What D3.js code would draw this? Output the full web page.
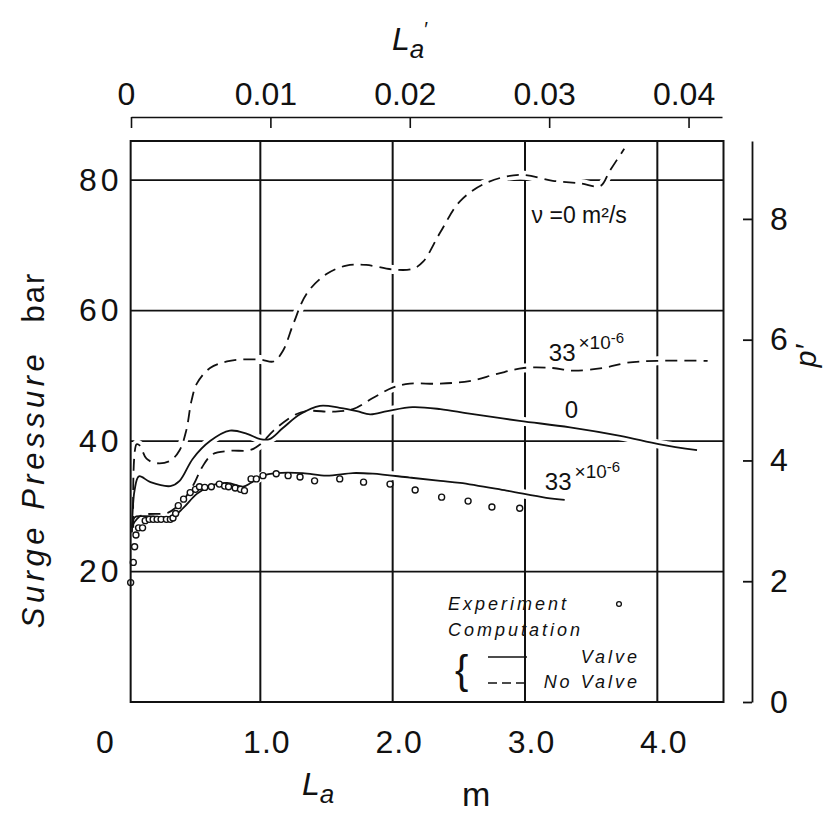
<!DOCTYPE html>
<html>
<head>
<meta charset="utf-8">
<style>
  body { margin: 0; background: #fff; }
  svg { display: block; }
  text { font-family: 'Liberation Sans', Arial, sans-serif; fill: #111; }
  .tick line, .domain { stroke: #111; }
</style>
</head>
<body>
<svg width="824" height="818"></svg>

<script src="https://d3js.org/d3.v7.min.js"></script>
<script>
// ---- data (La in m, pressure in bar) ----
let noValveZero = [[0.04,26.7],[0.065,39.5],[0.09,39.3],[0.14,37.3],[0.22,36.6],[0.32,37.0],[0.39,38.6],
  [0.44,41.6],[0.48,46.2],[0.52,48.8],[0.62,51.2],[0.77,52.3],[1.0,52.5],[1.1,52.2],[1.17,53.8],[1.25,58],
  [1.35,62.6],[1.5,65.6],[1.65,66.9],[1.8,67],[2.0,66.3],[2.15,66.4],[2.23,67.5],[2.36,72],[2.51,76.8],
  [2.71,79.6],[2.96,80.8],[3.21,79.9],[3.42,79.5],[3.57,79.1],[3.64,81.4],[3.75,84.8]]

let noValve33 = [[0.04,27.3],[0.1,28.6],[0.3,29.0],[0.36,29.8],[0.42,31],[0.5,33.5],[0.56,36],[0.64,38],
  [0.77,38.5],[0.92,38.6],[1.0,39.5],[1.1,41.6],[1.25,43.9],[1.35,44.6],[1.55,44.5],[1.7,44.9],[1.85,46.6],
  [2.0,48.2],[2.13,48.8],[2.35,48.8],[2.58,49.2],[2.79,50.3],[2.99,51.2],[3.21,51.2],[3.36,50.8],[3.59,51.2],
  [3.77,52],[4.0,52.3],[4.38,52.3]]

let valveZero = [[0.03,26.7],[0.05,32.5],[0.083,34.6],[0.17,33.7],[0.32,33.1],[0.39,33.9],[0.49,37.3],[0.62,40],
  [0.77,41.6],[0.9,41.1],[1.0,40.3],[1.07,40.3],[1.17,42],[1.3,44.1],[1.45,45.4],[1.6,45.1],[1.73,44.6],
  [1.83,44.1],[1.96,44.6],[2.15,45.2],[2.36,44.9],[2.58,44.2],[2.96,43.1],[3.34,42.1],[3.72,40.8],[4.02,39.5],[4.3,38.6]]

let valve33 = [[0.03,26],[0.05,28.3],[0.11,28.5],[0.34,28.5],[0.42,29.8],[0.52,31.9],[0.62,33.1],[0.75,33.6],
  [0.87,33],[0.93,33.6],[1.02,34.7],[1.12,35.1],[1.32,35.1],[1.5,34.7],[1.7,35.1],[1.85,35],[2.13,34.4],
  [2.36,33.9],[2.51,33.6],[2.86,32.4],[3.16,31.3],[3.3,31]]

let experiment = [[0.02,18.3],[0.04,21.4],[0.05,23.8],[0.06,25.6],[0.08,26.7],[0.11,26.7],[0.13,27.8],
  [0.16,28],[0.19,28],[0.22,28],[0.25,28],[0.29,28],[0.32,28],[0.34,28.2],[0.36,28.9],[0.38,30.1],[0.42,31.1],
  [0.47,32.1],[0.51,32.6],[0.54,33],[0.58,32.9],[0.63,33],[0.69,33.4],[0.73,33.1],[0.76,33],[0.81,32.8],
  [0.85,32.6],[0.88,32.4],[0.93,34.2],[0.97,34.2],[1.02,34.7],[1.12,35],[1.21,34.7],[1.3,34.5],[1.41,33.9],
  [1.6,34.2],[1.78,33.7],[1.98,33.4],[2.17,32.5],[2.37,31.4],[2.57,30.8],[2.75,29.9],[2.96,29.7]]

let xTicks = [1, 2, 3, 4]
let yTicks = [20, 40, 60, 80]
let topTicks = [0, 0.01, 0.02, 0.03, 0.04]
let rightTicks = [0, 2, 4, 6, 8]

// curve annotations: [x, y, text, multiplier, exponent]
let curveLabels = [[3.05, 73.5, "ν =0 m²/s", "", ""], [3.18, 52.3, "33", "×10", "-6"],
  [3.3, 43.6, "0", "", ""], [3.15, 32.5, "33", "×10", "-6"]]

let svg = d3.select("svg")

let x = d3.scaleLinear().domain([0, 4.5]).range([128, 723.5])
let y = d3.scaleLinear().domain([0, 86]).range([702, 141])
let xTop = d3.scaleLinear().domain([0, 0.0424]).range([131, 722])
let yRight = d3.scaleLinear().domain([0, 9.29]).range([702, 141])

let plotL = x(0.02), plotR = x(4.5), plotT = y(86), plotB = y(0)

// grid
svg.append("g").selectAll("line").data(yTicks).join("line")
  .attr("x1", plotL).attr("x2", plotR)
  .attr("y1", d => y(d)).attr("y2", d => y(d))
  .style("stroke", "#111").style("stroke-width", 1.8)
svg.append("g").selectAll("line").data(xTicks).join("line")
  .attr("x1", d => x(d)).attr("x2", d => x(d))
  .attr("y1", plotT).attr("y2", plotB)
  .style("stroke", "#111").style("stroke-width", 2)

// curves
let line = d3.line().x(d => x(d[0])).y(d => y(d[1])).curve(d3.curveCatmullRom.alpha(0.5))
let series = [
  { data: noValveZero, dash: "12,7" },
  { data: noValve33, dash: "12,7" },
  { data: valveZero, dash: null },
  { data: valve33, dash: null }
]

// white halo under curves gives the broken grid look
svg.append("g").selectAll("path").data(series).join("path")
  .attr("d", d => line(d.data))
  .style("fill", "none").style("stroke", "#fff").style("stroke-width", 9)

svg.append("g").selectAll("path").data(series).join("path")
  .attr("d", d => line(d.data))
  .style("fill", "none").style("stroke", "#111").style("stroke-width", 1.8)
  .style("stroke-dasharray", d => d.dash)

svg.append("g").selectAll("circle").data(experiment).join("circle")
  .attr("cx", d => x(d[0])).attr("cy", d => y(d[1])).attr("r", 3)
  .style("fill", "#fff").style("stroke", "#111").style("stroke-width", 1.4)

// frame
svg.append("rect")
  .attr("x", plotL).attr("y", plotT).attr("width", plotR - plotL).attr("height", plotB - plotT)
  .style("fill", "none").style("stroke", "#111").style("stroke-width", 2)

// curve labels
let lab = svg.append("g").selectAll("text").data(curveLabels).join("text")
  .attr("x", d => x(d[0])).attr("y", d => y(d[1]))
  .style("font-size", (d, i) => i == 0 ? "23px" : "24px")
  .style("paint-order", "stroke").style("stroke", "#fff").style("stroke-width", 4)
lab.append("tspan").text(d => d[2])
lab.append("tspan").attr("dx", 3).attr("dy", -12).style("font-size", "19px").text(d => d[3])
lab.append("tspan").attr("dy", -6).style("font-size", "15px").text(d => d[4])

// top axis
svg.append("g")
  .attr("transform", "translate(0,117)")
  .call(d3.axisTop(xTop).tickValues(topTicks).tickSizeInner(-11).tickSizeOuter(0).tickPadding(12)
    .tickFormat(d => d == 0 ? "0" : d3.format(".2f")(d)))
  .call(g => g.selectAll(".tick text").attr("dx", -5).style("font-size", "32px"))
  .call(g => g.selectAll(".tick line, .domain").style("stroke-width", 1.6))

// bottom axis
svg.append("g")
  .attr("transform", `translate(0,${plotB})`)
  .call(d3.axisBottom(x).tickValues(xTicks).tickSize(0).tickPadding(28).tickFormat(d3.format(".1f")))
  .call(g => g.select(".domain").remove())
  .call(g => g.selectAll(".tick text").attr("dx", 6).style("font-size", "32px").style("letter-spacing", "1px"))

svg.append("text").attr("x", x(0) - 23).attr("y", 753)
  .attr("text-anchor", "middle").style("font-size", "32px").text("0")

// left axis
svg.append("g")
  .attr("transform", `translate(${plotL},0)`)
  .call(d3.axisLeft(y).tickValues(yTicks).tickSize(0).tickPadding(8))
  .call(g => g.select(".domain").remove())
  .call(g => g.selectAll(".tick text").style("font-size", "32px").style("letter-spacing", "4px"))

// right axis
svg.append("g")
  .attr("transform", "translate(752,0)")
  .call(d3.axisRight(yRight).tickValues(rightTicks).tickSizeInner(-9).tickSizeOuter(0).tickPadding(18))
  .call(g => g.selectAll(".tick line, .domain").style("stroke-width", 1.8))
  .call(g => g.selectAll(".tick text").style("font-size", "32px"))

// axis titles
svg.append("text")
  .attr("transform", "translate(44,489) rotate(-90)")
  .attr("text-anchor", "middle")
  .style("font-size", "31px").style("font-style", "italic").style("letter-spacing", "4.5px")
  .text("Surge Pressure")
svg.append("text")
  .attr("transform", "translate(44,297) rotate(-90)")
  .attr("text-anchor", "middle")
  .style("font-size", "31px").style("letter-spacing", "2px")
  .text("bar")

svg.append("text")
  .attr("transform", "translate(816,356) rotate(-90)")
  .attr("text-anchor", "middle")
  .style("font-size", "30px").style("font-style", "italic")
  .text("p′")

let laBottom = svg.append("text").attr("x", 302).attr("y", 795)
  .style("font-size", "32px").style("font-style", "italic")
laBottom.append("tspan").text("L")
laBottom.append("tspan").attr("dy", 8).style("font-size", "26px").text("a")
svg.append("text").attr("x", 462).attr("y", 806).style("font-size", "34px").text("m")

let laTop = svg.append("text").attr("x", 392).attr("y", 50)
  .style("font-size", "32px").style("font-style", "italic")
laTop.append("tspan").text("L")
laTop.append("tspan").attr("dy", 8).style("font-size", "26px").text("a")
laTop.append("tspan").attr("dy", -22).style("font-size", "20px").style("font-style", "normal").text("′")

// legend
let legend = svg.append("g").style("font-size", "18px").style("font-style", "italic").style("letter-spacing", "3px")
legend.append("text").attr("x", 448).attr("y", 610).text("Experiment")
legend.append("text").attr("x", 448).attr("y", 636).text("Computation")
legend.append("text").attr("x", 640).attr("y", 663).attr("text-anchor", "end").text("Valve")
legend.append("text").attr("x", 640).attr("y", 688).attr("text-anchor", "end").text("No Valve")
svg.append("circle").attr("cx", 619).attr("cy", 604).attr("r", 2.4)
  .style("fill", "#fff").style("stroke", "#111").style("stroke-width", 1.3)
svg.append("line").attr("x1", 488).attr("x2", 527).attr("y1", 657).attr("y2", 657)
  .style("stroke", "#111").style("stroke-width", 1.5)
svg.append("line").attr("x1", 488).attr("x2", 527).attr("y1", 683).attr("y2", 683)
  .style("stroke", "#111").style("stroke-width", 1.5).style("stroke-dasharray", "9,5")
svg.append("text").attr("x", 455).attr("y", 684).style("font-size", "40px").style("font-weight", "300").text("{")
</script>
</body>
</html>
